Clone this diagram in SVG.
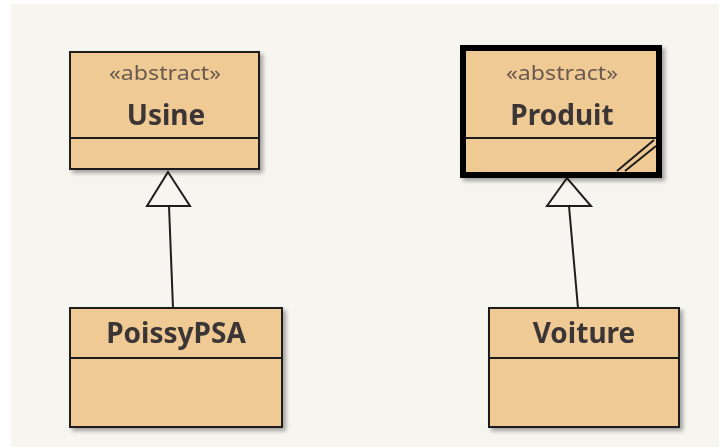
<svg xmlns="http://www.w3.org/2000/svg" width="719" height="447" viewBox="0 0 719 447">
  <style>
    .box { fill: #EFCA94; stroke: #1E1E1E; stroke-width: 2; }
    .thick { fill: #EFCA94; stroke: #000; stroke-width: 6; }
    .div { stroke: #1E1E1E; stroke-width: 2; fill: none; }
    .stereo { font-family: "Noto Sans", "Open Sans", sans-serif; font-size: 20px; fill: #6A5A4E; text-anchor: middle; }
    .name { font-family: "Noto Sans", "Open Sans", sans-serif; font-weight: bold; font-size: 28px; fill: #3A3434; text-anchor: middle; }
    .edge { stroke: #1E1E1E; stroke-width: 2; fill: none; }
    .head { fill: #F7F5F0; stroke: #1E1E1E; stroke-width: 2; stroke-linejoin: miter; }
  </style>
  <defs>
    <filter id="shadow" x="-10%" y="-10%" width="130%" height="130%">
      <feGaussianBlur in="SourceAlpha" stdDeviation="2"/>
      <feOffset dx="3" dy="3" result="b"/>
      <feComponentTransfer><feFuncA type="linear" slope="0.35"/></feComponentTransfer>
      <feMerge><feMergeNode/><feMergeNode in="SourceGraphic"/></feMerge>
    </filter>
  </defs>

  <rect x="0" y="0" width="719" height="447" fill="#FFFFFF"/>
  <rect x="11" y="4" width="708" height="443" fill="#F7F5F0"/>

  <g id="connectors">
    <line class="edge" x1="169" y1="206" x2="173" y2="308"/>
    <polygon class="head" points="168,172 147,206 190,206"/>
    <line class="edge" x1="569" y1="206" x2="578" y2="308"/>
    <polygon class="head" points="567,178 547,206 591,206"/>
  </g>

  <g id="Usine" filter="url(#shadow)">
    <rect class="box" x="70" y="52" width="189" height="117"/>
    <line class="div" x1="70" y1="138" x2="259" y2="138"/>
    <text class="stereo" x="165" y="80" textLength="112" lengthAdjust="spacingAndGlyphs">«abstract»</text>
    <text class="name" x="166" y="125">Usine</text>
  </g>

  <g id="Produit" filter="url(#shadow)">
    <rect class="thick" x="463" y="48" width="196" height="127"/>
    <line class="div" x1="466" y1="138" x2="656" y2="138"/>
    <line class="div" x1="617" y1="171" x2="654" y2="140"/>
    <line class="div" x1="625" y1="171" x2="656" y2="146"/>
    <text class="stereo" x="562" y="80" textLength="112" lengthAdjust="spacingAndGlyphs">«abstract»</text>
    <text class="name" x="562" y="125">Produit</text>
  </g>

  <g id="PoissyPSA" filter="url(#shadow)">
    <rect class="box" x="70" y="308" width="212" height="119"/>
    <line class="div" x1="70" y1="358" x2="282" y2="358"/>
    <text class="name" x="176" y="343">PoissyPSA</text>
  </g>

  <g id="Voiture" filter="url(#shadow)">
    <rect class="box" x="489" y="308" width="190" height="119"/>
    <line class="div" x1="489" y1="358" x2="679" y2="358"/>
    <text class="name" x="584" y="343">Voiture</text>
  </g>
</svg>
